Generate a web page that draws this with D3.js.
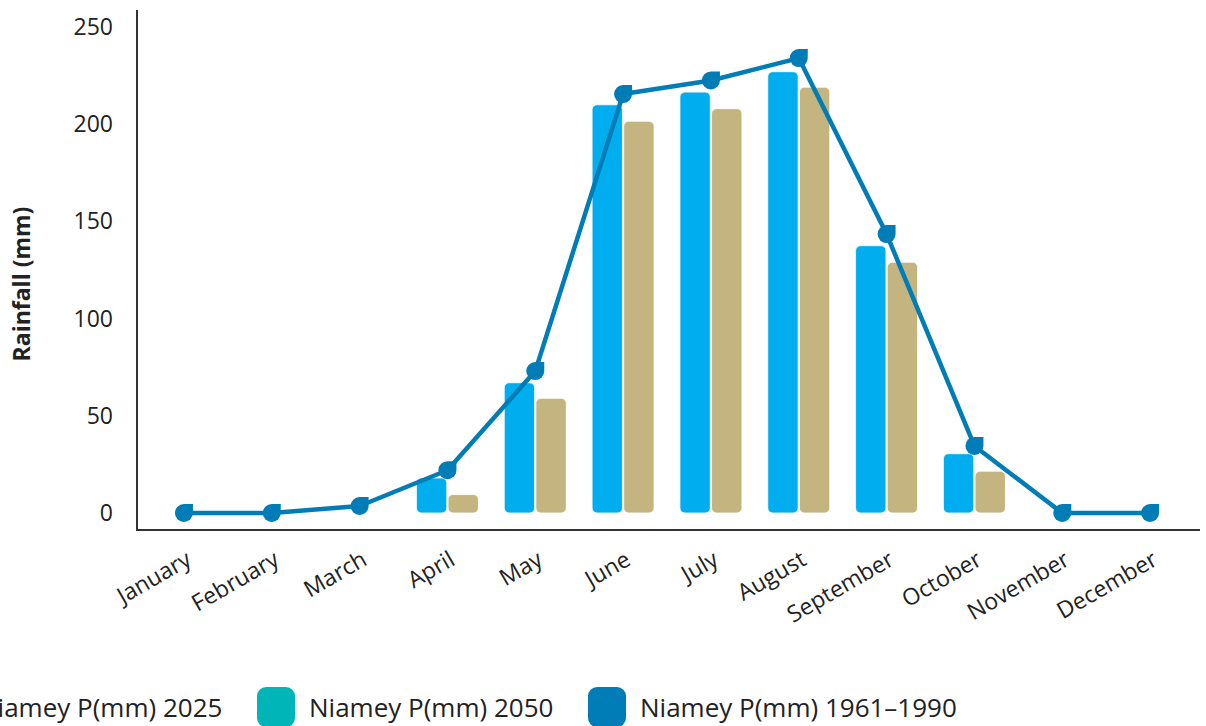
<!DOCTYPE html>
<html>
<head>
<meta charset="utf-8">
<script src="https://cdn.jsdelivr.net/npm/d3@7"></script>
<style>
  body { margin: 0; background: #fff; }
  svg { display: block; font-family: "Open Sans", "Noto Sans", sans-serif; }
</style>
</head>
<body>
<svg width="1206" height="726"></svg>
<script>
// données
const months = ["January", "February", "March", "April", "May", "June",
                "July", "August", "September", "October", "November", "December"];
const p2025 = [0, 0, 0, 18, 67, 210, 216.5, 227, 137.5, 30.5, 0, 0];
const p2050 = [0, 0, 0, 9.5, 59, 201.5, 208, 219, 129, 21.5, 0, 0];
const p1961 = [0, 0, 3.6, 22, 73, 215.5, 222.5, 234, 143.5, 34.5, 0, 0];
const yTicks = [0, 50, 100, 150, 200, 250];
const legendLabels = ["Niamey P(mm) 2025", "Niamey P(mm) 2050", "Niamey P(mm) 1961–1990"];
const legendColors = ["#00aeef", "#00b5b8", "#007cb6"];

const svg = d3.select("svg");

const x = d3.scaleBand()
    .domain(months)
    .range([140, 1194]);

const y = d3.scaleLinear()
    .domain([0, 250])
    .range([513, 27]);

const inner = d3.scaleBand()
    .domain(["2025", "2050"])
    .range([-31, 31])
    .paddingInner(0.04);

const cx = m => x(m) + x.bandwidth() / 2;

// eixos
svg.append("path")
    .attr("d", "M137,10V530H1200")
    .attr("fill", "none")
    .attr("stroke", "#333")
    .attr("stroke-width", 2);

svg.append("g")
  .selectAll("text")
  .data(yTicks)
  .join("text")
    .attr("x", 113)
    .attr("y", d => y(d))
    .attr("dy", "0.35em")
    .attr("text-anchor", "end")
    .attr("font-size", 23)
    .attr("fill", "#222")
    .text(d => d);

svg.append("text")
    .attr("transform", "translate(30,284) rotate(-90)")
    .attr("text-anchor", "middle")
    .attr("font-size", 23)
    .attr("font-weight", "bold")
    .attr("fill", "#222")
    .text("Rainfall (mm)");

svg.append("g")
  .selectAll("text")
  .data(months)
  .join("text")
    .attr("transform", d => "translate(" + (cx(d) + 9) + ",564) rotate(-30)")
    .attr("text-anchor", "end")
    .attr("font-size", 23)
    .attr("fill", "#222")
    .text(d => d);

// barras
const bars = months.map((m, i) => [
  { m: m, k: "2025", v: p2025[i], c: "#00aeef" },
  { m: m, k: "2050", v: p2050[i], c: "#c4b580" }
]).flat().filter(d => d.v > 0);

svg.append("g")
  .selectAll("rect")
  .data(bars)
  .join("rect")
    .attr("x", d => cx(d.m) + inner(d.k))
    .attr("y", d => y(d.v))
    .attr("width", inner.bandwidth())
    .attr("height", d => y(0) - y(d.v))
    .attr("rx", 5)
    .attr("fill", d => d.c)
    .attr("stroke", "#fff")
    .attr("stroke-width", 0.8);

// linha 1961-1990
const line = d3.line()
    .x((d, i) => cx(months[i]))
    .y(d => y(d));

svg.append("path")
    .datum(p1961)
    .attr("d", line)
    .attr("fill", "none")
    .attr("stroke", "#007cb6")
    .attr("stroke-width", 4.5)
    .attr("stroke-linejoin", "round");

const r = 9;
const marker = "M" + (-r) + ",0A" + r + "," + r + " 0 0 1 0," + (-r) +
    "H" + r + "V0A" + r + "," + r + " 0 0 1 0," + r +
    "A" + r + "," + r + " 0 0 1 " + (-r) + ",0Z";

svg.append("g")
  .selectAll("path")
  .data(p1961)
  .join("path")
    .attr("transform", (d, i) => "translate(" + cx(months[i]) + "," + y(d) + ")")
    .attr("d", marker)
    .attr("fill", "#007cb6");

// legenda
const legendX = [-74, 257, 588];
const lg = svg.append("g")
  .selectAll("g")
  .data(legendLabels)
  .join("g")
    .attr("transform", (d, i) => "translate(" + legendX[i] + ",687)");

lg.append("rect")
    .attr("width", 38)
    .attr("height", 40)
    .attr("rx", 9)
    .attr("fill", (d, i) => legendColors[i]);

lg.append("text")
    .attr("x", 52)
    .attr("y", 30)
    .attr("font-size", 26)
    .attr("fill", "#222")
    .text(d => d);
</script>
</body>
</html>
